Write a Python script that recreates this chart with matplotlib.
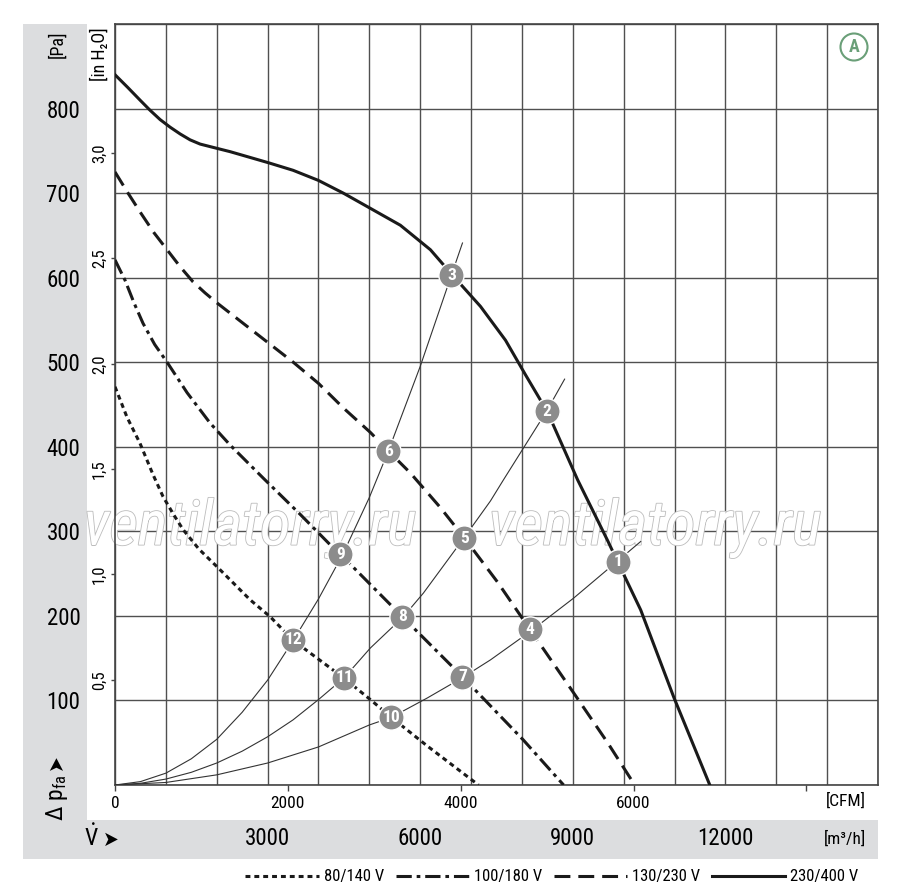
import matplotlib
matplotlib.use('Agg')
import matplotlib.pyplot as plt
from matplotlib.patches import Rectangle
from matplotlib.lines import Line2D
import matplotlib.patheffects as pe

plt.rcParams['font.family'] = ['Roboto Condensed', 'DejaVu Sans']
plt.rcParams['font.stretch'] = 'condensed'
plt.rcParams['mathtext.fontset'] = 'custom'
plt.rcParams['mathtext.rm'] = 'Roboto Condensed'
plt.rcParams['mathtext.it'] = 'Roboto Condensed:italic'

# ---------------- data (flow in m³/h, pressure in Pa) ----------------
q_230400 = [0, 250, 492, 689, 886, 1083, 1280, 1476, 1673, 2000, 2264, 3012, 3500, 4000,
            4488, 5020, 5610, 6201, 6634, 7185, 7677, 8071, 8504, 9094, 9685, 9882,
            10335, 10984, 11693]
p_230400 = [840, 825, 810, 798, 787, 778, 770, 763, 758, 753, 749, 736, 727, 715,
            700, 682, 662, 633, 603, 566, 526, 485, 441, 361, 289, 264,
            207, 104, 0]

q_130230 = [0, 256, 512, 768, 1024, 1280, 1535, 1770, 2008, 2520, 3012, 3504, 4000,
            4488, 5020, 5374, 5807, 6398, 6870, 7520, 8169, 9016, 9685, 10217]
p_130230 = [725, 700, 676, 653, 633, 613, 595, 582, 570, 546, 523, 500, 475,
            446, 417, 395, 369, 328, 292, 240, 183, 109, 50, 0]

q_100180 = [0, 197, 375, 551, 780, 1024, 1417, 1870, 2264, 2913, 3642, 4232, 4429,
            5650, 6831, 8031, 8819]
p_100180 = [621, 597, 570, 546, 521, 500, 464, 428, 402, 363, 320, 284, 273,
            199, 128, 53, 0]

q_80140 = [0, 236, 492, 748, 945, 1150, 1339, 1650, 2008, 2657, 3051, 3504, 4488, 5020,
           5453, 6142, 7146]
p_80140 = [471, 435, 404, 367, 341, 320, 302, 279, 258, 219, 199, 171, 127, 101,
           79, 46, 0]

# system (resistance) curves
q_sys_a = [0, 500, 1000, 1500, 2000, 2500, 3000, 3504, 4000, 4488, 5000, 5374, 6000, 6614, 6831]
p_sys_a = [0, 4, 14, 31, 54, 86, 124, 171, 220, 274, 340, 395, 495, 603, 641]
q_sys_b = [0, 500, 1000, 1500, 2000, 2500, 3000, 3500, 4000, 4508, 5020, 5669, 6063,
           6870, 7382, 7638, 8484, 8839]
p_sys_b = [0, 2, 7, 15, 26, 40, 57, 77, 101, 127, 162, 199, 227,
           293, 336, 361, 442, 480]
q_sys_c = [0, 1000, 2000, 3000, 4000, 5000, 5433, 6142, 6831, 7382, 8150, 9016, 9902, 10335]
p_sys_c = [0, 3, 12, 26, 45, 71, 80, 103, 127, 148, 181, 221, 266, 288]

op_labels = ['1', '2', '3', '4', '5', '6', '7', '8', '9', '10', '11', '12']
op_q = [9882, 8484, 6614, 8160, 6870, 5374, 6831, 5650, 4429, 5433, 4508, 3504]
op_p = [264, 442, 603, 184, 292, 395, 128, 199, 273, 80, 127, 172]

x_grid = list(range(0, 15001, 1000))
x_labels_m3h = {3000: '3000', 6000: '6000', 9000: '9000', 12000: '12000'}
y_grid = list(range(0, 901, 100))
y_labels_pa = {100: '100', 200: '200', 300: '300', 400: '400', 500: '500',
               600: '600', 700: '700', 800: '800'}
cfm_ticks = [0, 2000, 4000, 6000, 8000]
cfm_labels = ['0', '2000', '4000', '6000', '']
inh2o_ticks = [0.5, 1.0, 1.5, 2.0, 2.5, 3.0]
inh2o_labels = ['0,5', '1,0', '1,5', '2,0', '2,5', '3,0']

series_labels = ['80/140 V', '100/180 V', '130/230 V', '230/400 V']

# ---------------- figure ----------------
W, H = 900, 894
fig = plt.figure(figsize=(9, 8.94), dpi=100)

def fx(x):
    return x / W

def fy(y):
    return 1 - y / H

panel_c = '#dcdddf'
fig.add_artist(Rectangle((fx(23), fy(859)), fx(87) - fx(23), fy(24) - fy(859),
                         transform=fig.transFigure, fc=panel_c, ec='none', zorder=0))
fig.add_artist(Rectangle((fx(23), fy(859)), fx(878) - fx(23), fy(820) - fy(859),
                         transform=fig.transFigure, fc=panel_c, ec='none', zorder=0))

L, R, T, B = 115, 878, 24, 785
ax = fig.add_axes([fx(L), fy(B), fx(R) - fx(L), fy(T) - fy(B)])
ax.set_xlim(0, 15000)
ax.set_ylim(0, 900)
ax.set_axisbelow(True)
ax.patch.set_facecolor('white')

grid_c = '#505050'
ax.set_xticks(x_grid)
ax.set_xticklabels([x_labels_m3h.get(v, '') for v in x_grid])
ax.set_yticks(y_grid)
ax.set_yticklabels([y_labels_pa.get(v, '') for v in y_grid])
ax.grid(True, color=grid_c, lw=1.0)
ax.tick_params(axis='x', length=0, pad=30, labelsize=16.5)
ax.tick_params(axis='y', length=0, pad=25, labelsize=16.5)
for s in ax.spines.values():
    s.set_color('#444444')
    s.set_linewidth(1.2)

# secondary axes
sec_x = ax.secondary_xaxis('bottom', functions=(lambda q: q / 1.699, lambda c: c * 1.699))
sec_x.set_xticks(cfm_ticks)
sec_x.set_xticklabels(cfm_labels)
sec_x.tick_params(length=4, width=1, color='#444444', pad=4, labelsize=12.5)
sec_x.spines['bottom'].set_visible(False)

sec_y = ax.secondary_yaxis('left', functions=(lambda p: p / 249.09, lambda h: h * 249.09))
sec_y.set_yticks(inh2o_ticks)
sec_y.set_yticklabels(inh2o_labels, rotation=90, va='center')
sec_y.tick_params(length=3, width=1, color='#444444', pad=3, labelsize=12)
sec_y.spines['left'].set_visible(False)

# watermark
for cx in (250, 655):
    ax.text(fx(cx), fy(528), 'ventilatorry.ru', fontsize=45, style='italic',
            ha='center', va='center', color='white', zorder=2,
            transform=fig.transFigure, clip_on=False,
            path_effects=[pe.withStroke(linewidth=1.2, foreground='#bcbcbc')])

# system curves
for q, p in ((q_sys_a, p_sys_a), (q_sys_b, p_sys_b), (q_sys_c, p_sys_c)):
    ax.plot(q, p, color='#333333', lw=0.8, zorder=3)

lw = 2.2
ax.plot(q_80140, p_80140, color='#1a1a1a', lw=lw, dashes=(1.6, 1.3), zorder=4)
ax.plot(q_100180, p_100180, color='#1a1a1a', lw=lw, dashes=(5.0, 1.6, 1.2, 1.6), zorder=4)
ax.plot(q_130230, p_130230, color='#1a1a1a', lw=lw, dashes=(5.2, 2.6), zorder=4)
ax.plot(q_230400, p_230400, color='#1a1a1a', lw=lw, zorder=4)

ax.scatter(op_q, op_p, s=330, color='#8c8c8c', edgecolor='white', linewidth=1.0, zorder=6)
for lab, q, p in zip(op_labels, op_q, op_p):
    ax.text(q, p, lab, color='white', fontsize=12.5, fontweight='bold',
            ha='center', va='center', zorder=7)

# "A" mark
ax.text((854 - L) / (R - L), (B - 47) / (B - T), 'A', transform=ax.transAxes,
        fontsize=13, fontweight='bold', color='#6a9f78', ha='center', va='center',
        bbox=dict(boxstyle='circle,pad=0.25', fc='white', ec='#6a9f78', lw=1.5), zorder=8)

# axis annotation texts
fig.text(fx(57), fy(44), '[Pa]', rotation=90, fontsize=13, ha='center', va='center')
fig.text(fx(100), fy(54), '[in H₂O]', rotation=90, fontsize=13, ha='center', va='center')
fig.text(fx(57), fy(798), r'$\Delta\ \mathrm{p}_{\mathrm{fa}}$', rotation=90, fontsize=17,
         ha='center', va='center')
fig.text(fx(56), fy(762), '➤', rotation=90, fontsize=15, ha='center', va='center',
         family=['DejaVu Sans'])
fig.text(fx(91), fy(838), r'$\dot{\mathrm{V}}$', fontsize=17, ha='center', va='center')
fig.text(fx(111), fy(840), '➤', fontsize=15, ha='center', va='center', family=['DejaVu Sans'])
fig.text(fx(866), fy(801), '[CFM]', fontsize=12.5, ha='right', va='center')
fig.text(fx(866), fy(839), '[m³/h]', fontsize=12.5, ha='right', va='center')

# legend
handles = [
    Line2D([], [], color='#1a1a1a', lw=lw, dashes=(1.6, 1.3)),
    Line2D([], [], color='#1a1a1a', lw=lw, dashes=(5.0, 1.6, 1.2, 1.6)),
    Line2D([], [], color='#1a1a1a', lw=lw, dashes=(5.2, 2.6)),
    Line2D([], [], color='#1a1a1a', lw=lw),
]
fig.legend(handles, series_labels, loc='center', bbox_to_anchor=(fx(552), fy(877)),
           ncol=4, frameon=False, handlelength=4.4, handletextpad=0.3,
           columnspacing=0.7, fontsize=12)

fig.savefig('out.png', dpi=100)
